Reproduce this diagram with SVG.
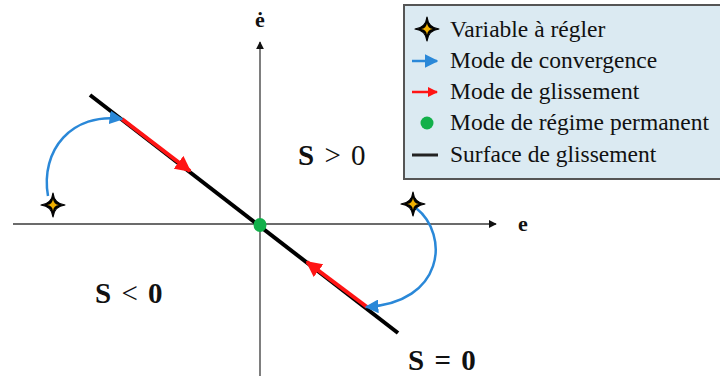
<svg xmlns="http://www.w3.org/2000/svg" width="720" height="380" viewBox="0 0 720 380">
<style>
.ax{stroke:#3a3a3a;stroke-width:1.3;fill:none}
.surf{stroke:#000;stroke-width:4;fill:none}
.slide{stroke:#ff1414;stroke-width:4;fill:none}
.conv{stroke:#2a88d8;stroke-width:2.5;fill:none}
.lg{font-family:"Liberation Serif",serif;font-size:23.5px;fill:#111}
.lab{font-family:"Liberation Serif",serif;font-weight:bold;fill:#111}
.nb{font-weight:normal}
</style>
<defs>
<marker id="ah" viewBox="0 0 10 10" refX="9" refY="5" markerWidth="8" markerHeight="8" markerUnits="userSpaceOnUse" orient="auto"><path d="M0,0L10,5L0,10Z" fill="#111"/></marker>
<marker id="ar" viewBox="0 0 10 10" refX="9" refY="5" markerWidth="4" markerHeight="4" orient="auto"><path d="M0,0L10,5L0,10Z" fill="#ff1414"/></marker>
<marker id="ab" viewBox="0 0 10 10" refX="9" refY="5" markerWidth="5.5" markerHeight="5.5" orient="auto"><path d="M0,0L10,5L0,10Z" fill="#2a88d8"/></marker>
<g id="st">
<path d="M0,-12 Q1.2,-1.2 12,0 Q1.2,1.2 0,12 Q-1.2,1.2 -12,0 Q-1.2,-1.2 0,-12Z" fill="#000" stroke="#000" stroke-width="1.2" stroke-linejoin="round"/>
<path d="M0,-6 Q0.6,-0.6 6,0 Q0.6,0.6 0,6 Q-0.6,0.6 -6,0 Q-0.6,-0.6 0,-6Z" fill="#f0b000"/>
</g>
</defs>
<rect width="720" height="380" fill="#fff"/>
<g id="axes">
<line class="ax" x1="13" y1="224" x2="496" y2="224" marker-end="url(#ah)"/>
<line class="ax" x1="260" y1="376" x2="260" y2="42" marker-end="url(#ah)"/>
<text class="lab" x="260" y="27" font-size="22" text-anchor="middle">ė</text>
<text class="lab" x="523" y="231" font-size="22" text-anchor="middle">e</text>
</g>
<g id="surface"><line class="surf" x1="90" y1="95" x2="398" y2="333"/></g>
<g id="connectors">
<line class="slide" x1="122" y1="119" x2="190" y2="171" marker-end="url(#ar)"/>
<line class="slide" x1="367" y1="307" x2="307" y2="262" marker-end="url(#ar)"/>
<path class="conv" d="M48,196 C40,150 72,112 122,119" marker-end="url(#ab)"/>
<path class="conv" d="M416,208 C450,235 444,303 366,307" marker-end="url(#ab)"/>
</g>
<g id="origin"><ellipse cx="260" cy="225" rx="6.5" ry="7" fill="#12b04a"/></g>
<g id="star-left"><use href="#st" transform="translate(53,205)"/></g>
<g id="star-right"><use href="#st" transform="translate(413,204)"/></g>
<g id="regions">
<text class="lab" x="298" y="165" font-size="29" word-spacing="3">S <tspan class="nb">&gt; 0</tspan></text>
<text class="lab" x="95" y="303" font-size="29" word-spacing="3">S <tspan class="nb">&lt;</tspan> 0</text>
<text class="lab" x="408" y="370" font-size="29" word-spacing="3">S = 0</text>
</g>
<g id="legend">
<rect x="404" y="5" width="318" height="174" fill="#dbeaf2" stroke="#555" stroke-width="2"/>
<use href="#st" transform="translate(427,29)"/>
<text class="lg" x="450" y="37">Variable à régler</text>
<line x1="412" y1="61" x2="437" y2="61" stroke="#2a88d8" stroke-width="2.5" marker-end="url(#ab)"/>
<text class="lg" x="450" y="68">Mode de convergence</text>
<line x1="412" y1="92" x2="437" y2="92" stroke="#ff1414" stroke-width="2.5" marker-end="url(#ar)"/>
<text class="lg" x="450" y="99">Mode de glissement</text>
<circle cx="427" cy="123" r="6.5" fill="#12b04a"/>
<text class="lg" x="450" y="130">Mode de régime permanent</text>
<line x1="412" y1="155" x2="438" y2="155" stroke="#222" stroke-width="3"/>
<text class="lg" x="450" y="162">Surface de glissement</text>
</g>
</svg>
